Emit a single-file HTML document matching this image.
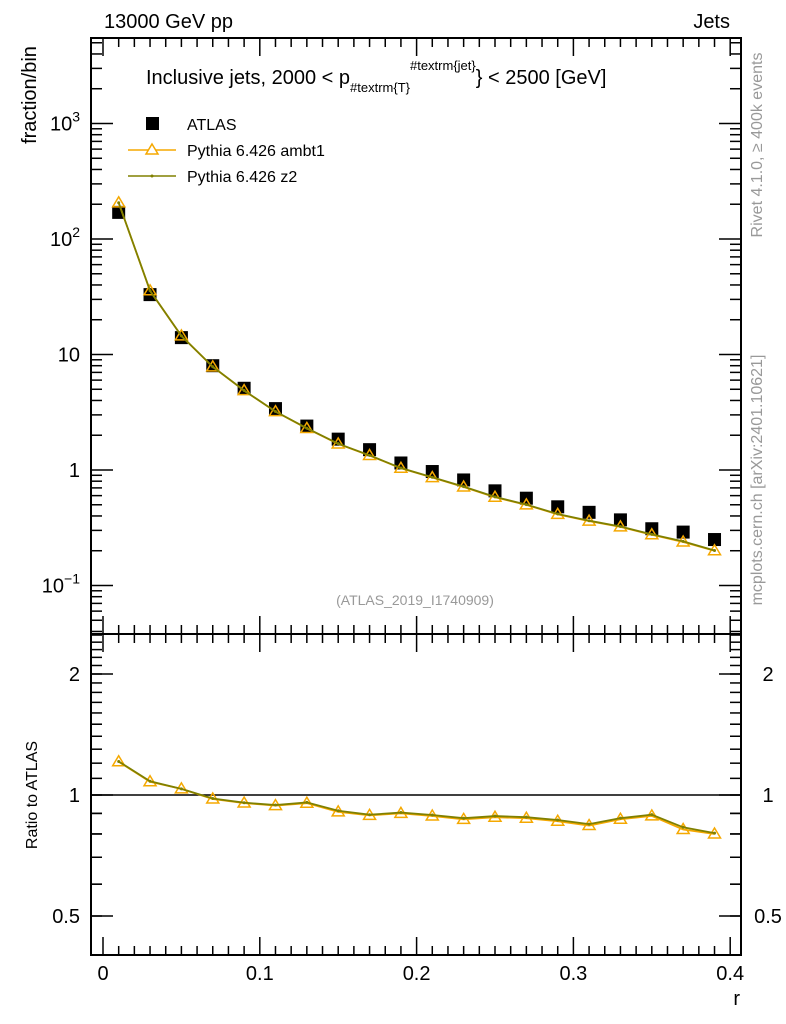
<!DOCTYPE html>
<html><head><meta charset="utf-8"><style>
body{margin:0;background:#fff}
svg{display:block;font-family:"Liberation Sans",sans-serif}
</style></head><body>
<svg id="chart" width="786" height="1024" viewBox="0 0 786 1024">
<g id="topPanel"></g>
<g id="botPanel"></g>
<text x="104" y="28" font-size="20">13000 GeV pp</text>
<text x="730" y="28" font-size="20" text-anchor="end">Jets</text>
<text x="146" y="84" font-size="20">Inclusive jets, 2000 &lt; p<tspan font-size="13" dy="8">#textrm{T}</tspan><tspan font-size="13" dy="-22">#textrm{jet}</tspan><tspan dy="14">} &lt; 2500 [GeV]</tspan></text>
<text transform="translate(36,95) rotate(-90)" font-size="20" text-anchor="middle">fraction/bin</text>
<text transform="translate(37,795) rotate(-90)" font-size="16" text-anchor="middle">Ratio to ATLAS</text>
<text x="740" y="1005" font-size="20" text-anchor="end">r</text>
<text transform="translate(762,145) rotate(-90)" font-size="16" fill="#999" text-anchor="middle">Rivet 4.1.0, ≥ 400k events</text>
<text transform="translate(762,480) rotate(-90)" font-size="16" fill="#999" text-anchor="middle">mcplots.cern.ch [arXiv:2401.10621]</text>
<text x="415" y="605" font-size="14" fill="#999" text-anchor="middle">(ATLAS_2019_I1740909)</text>
<g>
<rect x="146" y="117" width="13" height="13" fill="#000"/>
<text x="187" y="130" font-size="16">ATLAS</text>
<line x1="128" y1="150" x2="176" y2="150" stroke="#f5a800" stroke-width="1.5"/>
<path d="M152,144 L158,154 L146,154 Z" fill="#fff" stroke="#f5a800" stroke-width="1.5"/>
<text x="187" y="156" font-size="16">Pythia 6.426 ambt1</text>
<line x1="128" y1="176" x2="176" y2="176" stroke="#808000" stroke-width="1.5"/>
<circle cx="152" cy="176" r="1.5" fill="#808000"/>
<text x="187" y="182" font-size="16">Pythia 6.426 z2</text>
</g>
</svg>
<script>
const xVals=[0.01,0.03,0.05,0.07,0.09,0.11,0.13,0.15,0.17,0.19,0.21,0.23,0.25,0.27,0.29,0.31,0.33,0.35,0.37,0.39];
const atlas=[170,33,14,8,5.1,3.4,2.4,1.85,1.5,1.15,0.97,0.82,0.66,0.57,0.48,0.43,0.37,0.31,0.29,0.25];
const ambt1=[205.7,35.6,14.5,7.82,4.87,3.2,2.29,1.68,1.335,1.035,0.86,0.713,0.581,0.499,0.413,0.361,0.322,0.275,0.238,0.2];
const z2=[206,35.7,14.5,7.84,4.88,3.21,2.3,1.69,1.34,1.04,0.865,0.718,0.585,0.502,0.416,0.364,0.324,0.277,0.241,0.201];
const xTicks=[0,0.1,0.2,0.3,0.4];
const xTickLabels=["0","0.1","0.2","0.3","0.4"];
const NS="http://www.w3.org/2000/svg";
const L=91,R=741,T=38,M=634,B=955;
const X=v=>103+v*1568;
const Yt=v=>470-115.5*Math.log10(v);
const Yb=v=>795-121*Math.log2(v);
function mk(p,tag,a){const e=document.createElementNS(NS,tag);for(const k in a)e.setAttribute(k,a[k]);p.appendChild(e);return e;}
const gTop=document.getElementById('topPanel'),gBot=document.getElementById('botPanel');
function frame(g,y1,y2){const r=mk(g,'rect',{x:L,y:y1,width:R-L,height:y2-y1,fill:'none',stroke:'#000','stroke-width':2});

}
frame(gTop,T,M);frame(gBot,M,B);
function xt(g,y1,y2){for(let i=0;i<=40;i++){const v=i/100,x=X(v);if(x<L||x>R)continue;const len=i%10==0?18:9;
mk(g,'line',{x1:x,y1:y2,x2:x,y2:y2-len,stroke:'#000','stroke-width':1.5});mk(g,'line',{x1:x,y1:y1,x2:x,y2:y1+len,stroke:'#000','stroke-width':1.5});}}
xt(gTop,T,M);xt(gBot,M,B);
xTicks.forEach((v,i)=>{const t=mk(gBot,'text',{x:X(v),y:980,'font-size':20,'text-anchor':'middle'});t.textContent=xTickLabels[i];

});
for(let e=-2;e<=3;e++)for(let m=1;m<10;m++){const y=Yt(m*Math.pow(10,e));if(y<T||y>M)continue;const len=m==1?22:11;
mk(gTop,'line',{x1:L,y1:y,x2:L+len,y2:y,stroke:'#000','stroke-width':1.5});mk(gTop,'line',{x1:R,y1:y,x2:R-len,y2:y,stroke:'#000','stroke-width':1.5});}
[[0.1,'10','−1'],[1,'1',''],[10,'10',''],[100,'10','2'],[1000,'10','3']].forEach(d=>{const t=mk(gTop,'text',{x:80,y:Yt(d[0])+7,'font-size':20,'text-anchor':'end'});
t.textContent=d[1];if(d[2]){const s=mk(t,'tspan',{'font-size':14,dy:-9});s.textContent=d[2];}

});
[0.5,0.6,0.7,0.8,0.9,1,1.5,2].forEach(v=>{const y=Yb(v);const len=(v==0.5||v==1||v==2)?22:11;
mk(gBot,'line',{x1:L,y1:y,x2:L+len,y2:y,stroke:'#000','stroke-width':1.5});mk(gBot,'line',{x1:R,y1:y,x2:R-len,y2:y,stroke:'#000','stroke-width':1.5});});
for(let v=0.4;v<2.6;v+=0.1){const y=Yb(v);if(y<M||y>B)continue;mk(gBot,'line',{x1:L,y1:y,x2:L+11,y2:y,stroke:'#000','stroke-width':1.5});mk(gBot,'line',{x1:R,y1:y,x2:R-11,y2:y,stroke:'#000','stroke-width':1.5});}
[[0.5,'0.5'],[1,'1'],[2,'2']].forEach(d=>{[80,768].forEach((x,j)=>{const t=mk(gBot,'text',{x:x,y:Yb(d[0])+7,'font-size':20,'text-anchor':j?'middle':'end'});t.textContent=d[1];

});});
mk(gBot,'line',{x1:L,y1:Yb(1),x2:R,y2:Yb(1),stroke:'#000','stroke-width':1.5});
function series(g,vals,Y,color,tri,name){const p=mk(g,'polyline',{points:vals.map((v,i)=>X(xVals[i])+','+Y(v,i)).join(' '),fill:'none',stroke:color,'stroke-width':1.8});


vals.forEach((v,i)=>{const x=X(xVals[i]),y=Y(v,i);let m;
if(tri)m=mk(g,'path',{d:`M${x},${y-6} L${x+6},${y+4} L${x-6},${y+4} Z`,fill:'none',stroke:color,'stroke-width':1.5});
else m=mk(g,'circle',{cx:x,cy:y,r:1.5,fill:color});

});}
atlas.forEach((v,i)=>{const r=mk(gTop,'rect',{x:X(xVals[i])-6.5,y:Yt(v)-6.5,width:13,height:13,fill:'#000'});

});
series(gTop,ambt1,v=>Yt(v),'#f5a800',true,'ambt1');
series(gTop,z2,v=>Yt(v),'#808000',false,'z2');
series(gBot,ambt1,(v,i)=>Yb(v/atlas[i]),'#f5a800',true,'ambt1-ratio');
series(gBot,z2,(v,i)=>Yb(v/atlas[i]),'#808000',false,'z2-ratio');
</script>
</body></html>
